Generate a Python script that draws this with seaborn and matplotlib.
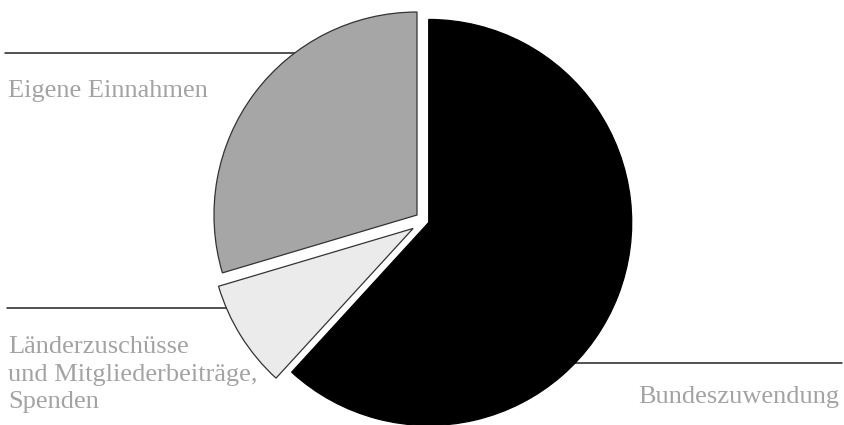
import matplotlib
matplotlib.use("Agg")
import matplotlib.pyplot as plt
import seaborn as sns

# Finanzierung - shares (percent)
labels = ["Bundeszuwendung", "Länderzuschüsse\nund Mitgliederbeiträge,\nSpenden", "Eigene Einnahmen"]
values = [61.8, 8.6, 29.6]
colors = ["#000000", "#ebebeb", "#a6a6a6"]

sns.set_theme(style="white")
plt.rcParams["font.family"] = ["Liberation Serif", "DejaVu Serif"]

W, H = 845, 425
fig = plt.figure(figsize=(W / 100, H / 100), dpi=100)
ax = fig.add_axes([0, 0, 1, 1])

# pie drawn in pixel-like data units (y flipped: data y = H - pixel y)
wedges, _ = ax.pie(
    values,
    colors=colors,
    startangle=90,
    counterclock=False,
    radius=203,
    center=(425, H - 221),
    explode=[4, 14, 10],
    wedgeprops=dict(linewidth=0.9, edgecolor="#333333"),
)
wedges[0].set_edgecolor("#000000")

ax.set_xlim(0, W)
ax.set_ylim(0, H)
ax.set_aspect("equal")
ax.axis("off")

line_kw = dict(color="#222222", lw=1.1, zorder=0)
text_kw = dict(color="#a3a3a3", fontsize=19, va="baseline")

# Eigene Einnahmen (upper left)
ax.plot([5, 310], [H - 53, H - 53], **line_kw)
ax.text(8, H - 97, labels[2], ha="left", **text_kw)

# Länderzuschüsse (lower left)
ax.plot([7, 270], [H - 308, H - 308], **line_kw)
for i, part in enumerate(labels[1].split("\n")):
    ax.text(8, H - 353 - i * 27.5, part, ha="left", **text_kw)

# Bundeszuwendung (lower right)
ax.plot([560, 842], [H - 363, H - 363], **line_kw)
ax.text(839, H - 403, labels[0], ha="right", **text_kw)

fig.savefig("out.png", dpi=100)
